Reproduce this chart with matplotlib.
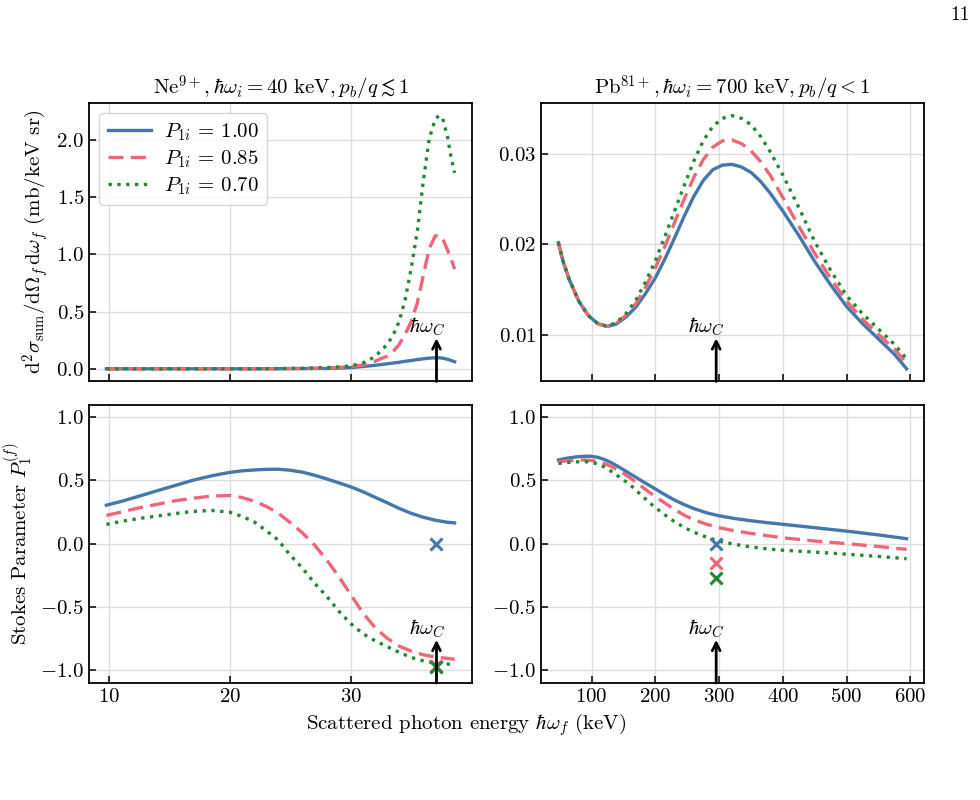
import numpy as np
import matplotlib
matplotlib.use("Agg")
import matplotlib.pyplot as plt

plt.rcParams['font.family'] = 'serif'
plt.rcParams['font.serif'] = ['cmr10', 'DejaVu Serif']
plt.rcParams['mathtext.fontset'] = 'cm'
plt.rcParams['axes.formatter.use_mathtext'] = True
plt.rcParams['font.size'] = 15
plt.rcParams['axes.unicode_minus'] = True

# ---- data ----
pol_labels = [r'$P_{1i}\,=\,1.00$', r'$P_{1i}\,=\,0.85$', r'$P_{1i}\,=\,0.70$']

# Ne9+, 40 keV: cross section
ne_x_cs = [9.8, 12, 14, 16, 18, 20, 22, 24, 26, 28, 29, 30, 31, 32, 33, 33.5, 34,
           34.5, 35, 35.5, 36, 36.5, 37, 37.3, 37.6, 38, 38.3, 38.6]
ne_cs_100 = [0, 0, 0, 0, 0, 0, 0, 0.001, 0.002, 0.003, 0.006, 0.010, 0.020, 0.030,
             0.043, 0.050, 0.057, 0.065, 0.072, 0.080, 0.087, 0.093, 0.096, 0.096,
             0.093, 0.083, 0.073, 0.062]
ne_cs_085 = [0, 0, 0, 0, 0, 0, 0, 0.001, 0.003, 0.006, 0.011, 0.018, 0.032, 0.065,
             0.11, 0.15, 0.21, 0.30, 0.41, 0.57, 0.81, 1.05, 1.16, 1.165, 1.14,
             1.04, 0.96, 0.87]
ne_cs_070 = [0, 0, 0, 0, 0, 0, 0, 0.002, 0.004, 0.010, 0.016, 0.026, 0.05, 0.105,
             0.21, 0.29, 0.41, 0.60, 0.87, 1.19, 1.63, 2.01, 2.18, 2.21, 2.19,
             2.03, 1.85, 1.71]

# Pb81+, 700 keV: cross section
pb_x_cs = [48, 55, 65, 80, 95, 110, 125, 140, 155, 170, 185, 200, 215, 230, 245, 260,
           275, 290, 305, 320, 335, 350, 365, 380, 400, 425, 450, 475, 500, 525, 550,
           575, 594]
pb_cs_100 = [0.0202, 0.0182, 0.0161, 0.0137, 0.0121, 0.0112, 0.0109, 0.0112, 0.0120,
             0.0131, 0.0146, 0.0163, 0.0184, 0.0207, 0.0231, 0.0253, 0.0271, 0.0283,
             0.0288, 0.0289, 0.0286, 0.0280, 0.0270, 0.0257, 0.0237, 0.0210, 0.0181,
             0.0155, 0.0131, 0.0112, 0.0095, 0.0078, 0.0062]
pb_cs_085 = [0.0202, 0.0182, 0.0161, 0.0137, 0.0121, 0.0112, 0.0109, 0.0113, 0.0122,
             0.0135, 0.0153, 0.0174, 0.0198, 0.0224, 0.0250, 0.0274, 0.0294, 0.0308,
             0.0315, 0.0316, 0.0312, 0.0304, 0.0292, 0.0277, 0.0252, 0.0220, 0.0190,
             0.0162, 0.0137, 0.0117, 0.0100, 0.0084, 0.0068]
pb_cs_070 = [0.0202, 0.0182, 0.0161, 0.0137, 0.0121, 0.0112, 0.0109, 0.0114, 0.0124,
             0.0139, 0.0159, 0.0182, 0.0209, 0.0237, 0.0265, 0.0292, 0.0315, 0.0331,
             0.0340, 0.0343, 0.0340, 0.0333, 0.0320, 0.0303, 0.0277, 0.0241, 0.0203,
             0.0171, 0.0143, 0.0123, 0.0106, 0.0089, 0.0073]

# Ne9+: Stokes parameter P1(f)
ne_x_p = [9.8, 11, 12.5, 14, 15.5, 17, 18.5, 20, 21, 22, 23, 24, 25, 26, 27, 28, 29,
          30, 31, 32, 33, 34, 35, 36, 37, 38, 38.6]
ne_p_100 = [0.305, 0.334, 0.376, 0.419, 0.461, 0.503, 0.537, 0.564, 0.576, 0.583,
            0.588, 0.589, 0.581, 0.566, 0.542, 0.513, 0.482, 0.450, 0.412, 0.368,
            0.325, 0.280, 0.241, 0.210, 0.186, 0.170, 0.165]
ne_p_085 = [0.224, 0.250, 0.284, 0.312, 0.340, 0.360, 0.377, 0.381, 0.366, 0.337,
            0.297, 0.242, 0.168, 0.087, -0.008, -0.125, -0.257, -0.400, -0.545,
            -0.660, -0.745, -0.808, -0.848, -0.877, -0.895, -0.905, -0.913]
ne_p_070 = [0.153, 0.176, 0.200, 0.219, 0.239, 0.256, 0.263, 0.250, 0.217, 0.175,
            0.105, 0.030, -0.090, -0.190, -0.310, -0.413, -0.530, -0.630, -0.710,
            -0.765, -0.812, -0.857, -0.898, -0.925, -0.942, -0.950, -0.955]

# Pb81+: Stokes parameter P1(f)
pb_x_p = [48, 60, 75, 90, 100, 110, 120, 130, 140, 150, 160, 170, 180, 190, 200, 215,
          230, 245, 260, 280, 300, 325, 350, 375, 400, 450, 500, 550, 594]
pb_p_100 = [0.662, 0.675, 0.686, 0.692, 0.691, 0.683, 0.666, 0.643, 0.615, 0.585,
            0.554, 0.524, 0.493, 0.463, 0.433, 0.388, 0.346, 0.310, 0.279, 0.245,
            0.221, 0.199, 0.182, 0.167, 0.154, 0.127, 0.100, 0.070, 0.040]
pb_p_085 = [0.648, 0.655, 0.661, 0.662, 0.658, 0.649, 0.634, 0.613, 0.586, 0.556,
            0.522, 0.485, 0.447, 0.409, 0.373, 0.322, 0.271, 0.227, 0.190, 0.155,
            0.127, 0.102, 0.082, 0.064, 0.047, 0.022, 0.001, -0.022, -0.044]
pb_p_070 = [0.635, 0.641, 0.647, 0.649, 0.643, 0.630, 0.607, 0.575, 0.540, 0.505,
            0.469, 0.420, 0.376, 0.328, 0.286, 0.228, 0.175, 0.130, 0.092, 0.053,
            0.020, -0.005, -0.025, -0.040, -0.051, -0.066, -0.082, -0.100, -0.118]

# Compton energy and P1 values there (crosses)
ne_wc = 37.1
pb_wc = 295.4
ne_cross = [0.0, -0.965, -0.975]
pb_cross = [0.0, -0.155, -0.273]

colors = ['#4477AA', '#EE6677', '#228833']
styles = [dict(ls='-'), dict(ls=(0, (4.5, 2.2))), dict(ls=':')]
lw = 2.4

fig, axs = plt.subplots(2, 2, figsize=(9.8, 8), dpi=100, sharex='col')
plt.subplots_adjust(left=0.0908, right=0.9429, top=0.87125, bottom=0.14625,
                    wspace=0.18, hspace=0.083)

ax = axs[0, 0]
for y, c, s, lab in zip([ne_cs_100, ne_cs_085, ne_cs_070], colors, styles, pol_labels):
    ax.plot(ne_x_cs, y, color=c, lw=lw, label=lab, **s)
ax.set_yticks([0.0, 0.5, 1.0, 1.5, 2.0])
ax.set_ylabel(r'$\mathrm{d}^2\sigma_\mathrm{sum}/\mathrm{d}\Omega_f\,\mathrm{d}\omega_f$ (mb/keV sr)')
ax.set_title(r'$\mathrm{Ne}^{9+},\hbar\omega_i = 40\ \mathrm{keV},p_b/q \lesssim 1$',
             fontsize=15)
ax.legend(loc='upper left', handlelength=2.1, handletextpad=0.6, labelspacing=0.25,
          fontsize=15, edgecolor='#cccccc')

ax = axs[0, 1]
for y, c, s in zip([pb_cs_100, pb_cs_085, pb_cs_070], colors, styles):
    ax.plot(pb_x_cs, y, color=c, lw=lw, **s)
ax.set_yticks([0.01, 0.02, 0.03])
ax.set_title(r'$\mathrm{Pb}^{81+},\hbar\omega_i = 700\ \mathrm{keV},p_b/q < 1$',
             fontsize=15)

ax = axs[1, 0]
for y, c, s in zip([ne_p_100, ne_p_085, ne_p_070], colors, styles):
    ax.plot(ne_x_p, y, color=c, lw=lw, **s)
for v, c in zip(ne_cross, colors):
    ax.plot(ne_wc, v, 'x', color=c, ms=9, mew=2.2)
ax.set_ylabel(r'Stokes Parameter $P_1^{(f)}$')

ax = axs[1, 1]
for y, c, s in zip([pb_p_100, pb_p_085, pb_p_070], colors, styles):
    ax.plot(pb_x_p, y, color=c, lw=lw, **s)
for v, c in zip(pb_cross, colors):
    ax.plot(pb_wc, v, 'x', color=c, ms=9, mew=2.2)

for ax in axs[1]:
    ax.set_ylim(-1.1, 1.1)
    ax.set_yticks([-1.0, -0.5, 0.0, 0.5, 1.0])
axs[1, 0].set_xticks([10, 20, 30])
axs[1, 1].set_xticks([100, 200, 300, 400, 500, 600])

for ax, wc in zip(axs.flat, [ne_wc, pb_wc, ne_wc, pb_wc]):
    ax.grid(True, color='#dddddd', lw=1)
    ax.set_axisbelow(True)
    ax.tick_params(direction='in', length=5, width=1.1, labelsize=15)
    for sp in ax.spines.values():
        sp.set_linewidth(1.3)
    ax.annotate('', xy=(wc, 0.155), xycoords=('data', 'axes fraction'),
                xytext=(wc, 0.0), textcoords=('data', 'axes fraction'),
                arrowprops=dict(arrowstyle='->', lw=2, color='k',
                                shrinkA=0, shrinkB=0, mutation_scale=14))
    ax.annotate(r'$\hbar\omega_C$', xy=(wc, 0.155), xycoords=('data', 'axes fraction'),
                xytext=(-7, 0), textcoords='offset points', ha='center', va='bottom',
                fontsize=15)

fig.text(466 / 980, 1 - 725 / 800, r'Scattered photon energy $\hbar\omega_f$ (keV)',
         ha='center', va='center', fontsize=15)
fig.text(970 / 980, 1 - 15 / 800, '11', ha='right', va='center', fontsize=14)

fig.savefig('out.png', dpi=100)
